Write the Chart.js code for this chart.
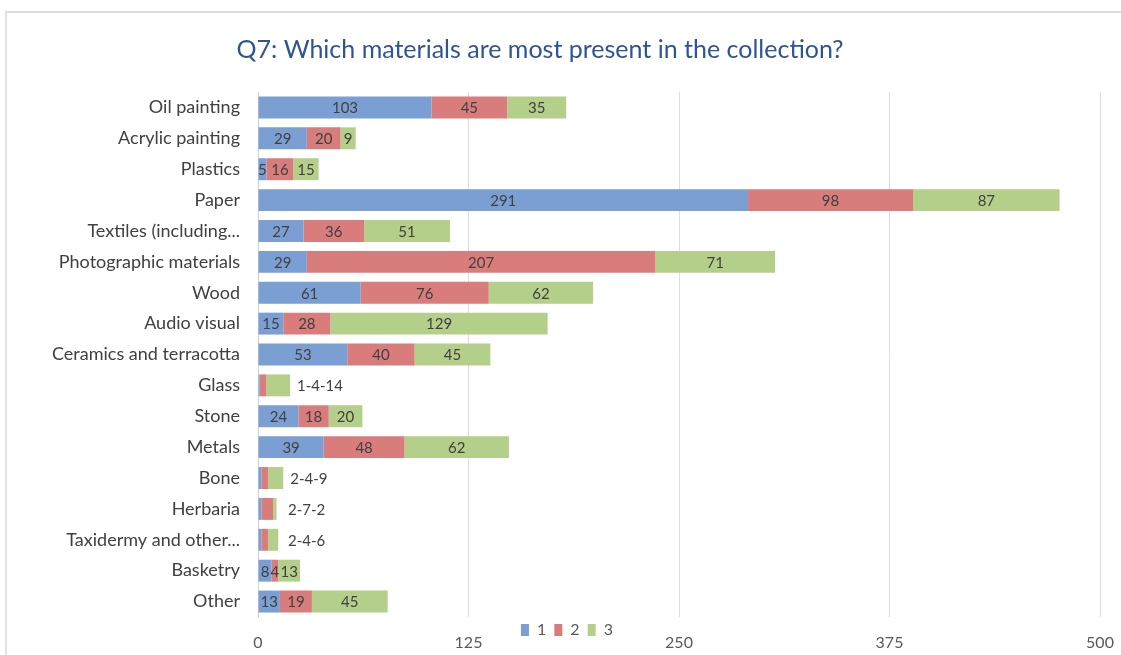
<!DOCTYPE html>
<html lang="en">
<head>
    <meta charset="UTF-8">
    <title>Q7 Materials</title>
    <script src="https://cdn.jsdelivr.net/npm/chart.js"></script>
    <style>
        body { margin: 0; background: #fff; }
        #frame {
            position: absolute; left: 5px; top: 11px; width: 1116px; height: 644px;
            border-top: 2px solid #dcdcdc; border-left: 2px solid #e2e2e2;
        }
        #wrap { position: absolute; left: 0; top: 0; width: 1121px; height: 655px; }
    </style>
</head>
<body>
    <div id="frame"></div>
    <div id="wrap"><canvas id="chart"></canvas></div>

    <script>
        const categories = ["Oil painting", "Acrylic painting", "Plastics", "Paper", "Textiles (including...",
            "Photographic materials", "Wood", "Audio visual", "Ceramics and terracotta", "Glass", "Stone",
            "Metals", "Bone", "Herbaria", "Taxidermy and other...", "Basketry", "Other"];
        const series1 = [103, 29, 5, 291, 27, 29, 61, 15, 53, 1, 24, 39, 2, 2, 2, 8, 13];
        const series2 = [45, 20, 16, 98, 36, 207, 76, 28, 40, 4, 18, 48, 4, 7, 4, 4, 19];
        const series3 = [35, 9, 15, 87, 51, 71, 62, 129, 45, 14, 20, 62, 9, 2, 6, 13, 45];
        const xTicks = [0, 125, 250, 375, 500];
        // categories whose values are written beside the bar as "a-b-c"
        const outsideLabels = ["Glass", "Bone", "Herbaria", "Taxidermy and other..."];

        const labelFont = "Lato, 'DejaVu Sans', sans-serif";

        const valueLabels = {
            id: "valueLabels",
            afterDatasetsDraw(chart) {
                const ctx = chart.ctx;
                ctx.save();
                ctx.font = "15px " + labelFont;
                ctx.fillStyle = "#404040";
                ctx.textBaseline = "middle";
                chart.data.datasets.forEach((ds, di) => {
                    const meta = chart.getDatasetMeta(di);
                    meta.data.forEach((bar, i) => {
                        if (outsideLabels.includes(categories[i])) return;
                        const left = Math.min(bar.x, bar.base);
                        const w = Math.abs(bar.x - bar.base);
                        ctx.textAlign = "center";
                        ctx.fillText(String(ds.data[i]), left + w / 2, bar.y + 1);
                    });
                });
                const last = chart.getDatasetMeta(chart.data.datasets.length - 1);
                categories.forEach((c, i) => {
                    if (!outsideLabels.includes(c)) return;
                    const bar = last.data[i];
                    const txt = chart.data.datasets.map(ds => ds.data[i]).join("-");
                    ctx.textAlign = "left";
                    ctx.fillText(txt, Math.max(bar.x + 7, 288), bar.y + 1);
                });
                ctx.restore();
            }
        };

        // the legend sits just under the plot, above the x tick labels;
        // the title is nudged a little left like in the original
        const placeBlocks = {
            id: "placeBlocks",
            afterLayout(chart) {
                const lg = chart.legend;
                const h = lg.bottom - lg.top;
                lg.top = chart.chartArea.bottom + 1;
                lg.bottom = lg.top + h;
                lg.left += 14;
                lg.right += 14;
                const tb = chart.titleBlock;
                tb.left -= 15;
                tb.right -= 15;
            }
        };

        new Chart(document.getElementById("chart"), {
            type: "bar",
            data: {
                labels: categories,
                datasets: [
                    { label: "1", data: series1, backgroundColor: "#7b9fd3" },
                    { label: "2", data: series2, backgroundColor: "#d97c7c" },
                    { label: "3", data: series3, backgroundColor: "#b4cf89" },
                ],
            },
            options: {
                indexAxis: "y",
                responsive: true,
                maintainAspectRatio: false,
                animation: false,
                layout: { padding: { left: 10, right: 21, bottom: -44 } },
                datasets: { bar: { barPercentage: 1, categoryPercentage: 0.71 } },
                scales: {
                    x: {
                        stacked: true,
                        min: 0, max: 500,
                        afterBuildTicks: (scale) => { scale.ticks = xTicks.map(v => ({ value: v })); },
                        afterFit: (scale) => { scale.paddingRight = 14; },
                        grid: { color: "#dedede", drawTicks: false },
                        border: { display: false },
                        ticks: { color: "#595959", font: { family: labelFont, size: 16, lineHeight: 1 }, padding: 18 },
                    },
                    y: {
                        stacked: true,
                        grid: { display: false, drawTicks: false },
                        border: { display: true, color: "#d0d0d0" },
                        ticks: { color: "#404040", font: { family: labelFont, size: 18 }, padding: 18 },
                        afterFit: (scale) => { scale.width = 248; },
                    },
                },
                plugins: {
                    title: {
                        display: true,
                        text: "Q7: Which materials are most present in the collection?",
                        color: "#2f5496",
                        font: { family: labelFont, size: 25, weight: "normal" },
                        padding: { top: 35, bottom: 27 },
                    },
                    legend: {
                        position: "bottom",
                        labels: {
                            color: "#595959",
                            font: { family: labelFont, size: 16 },
                            boxWidth: 8, boxHeight: 12,
                            padding: 4,
                            generateLabels: (chart) =>
                                Chart.defaults.plugins.legend.labels.generateLabels(chart)
                                    .map(item => ({ ...item, text: item.text + " " })),
                        },
                    },
                    tooltip: { enabled: false },
                },
            },
            plugins: [valueLabels, placeBlocks],
        });
    </script>
</body>
</html>
